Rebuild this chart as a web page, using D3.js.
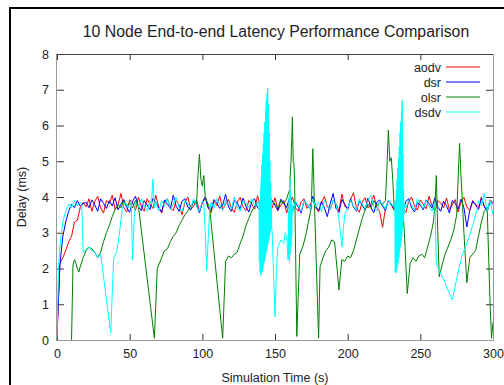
<!DOCTYPE html>
<html><head><meta charset="utf-8">
<script src="https://cdn.jsdelivr.net/npm/d3@7"></script>
<style>
html,body{margin:0;padding:0;background:#fff;}
svg{display:block;font-family:"Liberation Sans",Arial,sans-serif;}
</style></head>
<body><svg id="c" width="504" height="385"></svg>
<script>
// ---- data ----
const title = "10 Node End-to-end Latency Performance Comparison";
const xLabel = "Simulation Time (s)";
const yLabel = "Delay (ms)";
const xTicks = [0, 50, 100, 150, 200, 250, 300];
const yTicks = [0, 1, 2, 3, 4, 5, 6, 7, 8];
const seriesNames = ["aodv", "dsr", "olsr", "dsdv"];
const seriesColors = ["#ff0000", "#0000ff", "#008000", "#00ffff"];

// aodv / dsr: sampled every 2 s from t = 0
const aodvValues = [0.1, 2.15, 2.3, 2.5, 2.75, 2.9, 3.3, 3.35, 3.7, 3.85,
 3.72, 3.95, 3.6, 3.88, 4.02, 3.7, 3.55, 3.9, 3.82, 4.05,
 3.65, 3.78, 4.1, 3.7, 3.58, 3.92, 3.85, 3.62, 4.0, 3.75,
 3.6, 3.95, 3.8, 3.68, 4.05, 3.72, 3.55, 3.88, 3.95, 3.7,
 3.62, 3.9, 3.78, 3.5, 3.85, 4.0, 3.66, 3.74, 3.92, 3.6,
 3.82, 3.98, 3.7, 3.56, 3.88, 3.76, 4.03, 3.64, 3.8, 3.93,
 3.68, 3.57, 3.86, 3.99, 3.72, 3.62, 3.9, 3.8, 3.66, 4.04,
 3.74, 3.58, 3.92, 3.84, 3.7, 3.98, 3.63, 3.77, 3.9, 3.55,
 3.82, 4.0, 3.7, 3.6, 3.87, 3.95, 3.68, 3.78, 3.92, 3.7,
 3.58, 3.85, 4.02, 3.73, 3.64, 3.9, 3.81, 3.6, 4.08, 3.75,
 3.66, 3.93, 4.12, 3.7, 3.57, 3.86, 3.98, 3.69, 3.8, 4.05,
 3.72, 3.6, 3.15, 3.68, 3.9, 3.78, 3.62, 3.95, 3.84, 3.7,
 3.56, 3.88, 4.0, 3.74, 3.63, 3.92, 3.8, 3.67, 4.02, 3.76,
 3.6, 3.9, 3.83, 3.7, 3.97, 3.65, 3.78, 3.93, 3.58, 3.86,
 3.99, 3.72, 3.62, 3.9, 3.8, 3.68, 4.0, 3.75, 3.6, 3.92, 3.85];

const dsrValues = [0.1, 2.1, 2.9, 3.3, 3.6, 3.8, 3.7, 3.9, 3.75, 3.82,
 3.85, 3.7, 3.92, 3.78, 3.6, 3.95, 3.82, 3.68, 3.9, 3.75,
 3.98, 3.64, 3.8, 3.93, 3.7, 3.57, 3.88, 4.02, 3.73, 3.62,
 3.9, 3.78, 3.65, 3.96, 3.84, 3.7, 3.58, 3.92, 3.8, 3.67,
 4.05, 3.74, 3.6, 3.88, 3.95, 3.72, 3.63, 3.9, 3.79, 3.56,
 3.86, 4.0, 3.7, 3.62, 3.93, 3.82, 3.68, 3.77, 4.08, 3.72,
 3.6, 3.9, 3.84, 3.66, 3.97, 3.74, 3.58, 3.87, 3.95, 3.7,
 3.63, 3.92, 3.8, 3.68, 3.9, 3.76, 3.62, 3.94, 3.83, 3.7,
 3.98, 3.6, 3.85, 3.72, 3.55, 3.9, 3.8, 3.66, 4.02, 3.74,
 3.62, 3.88, 3.7, 3.45, 3.82, 4.1, 3.68, 3.57, 3.93, 3.8,
 3.66, 3.95, 3.72, 3.6, 3.88, 3.78, 3.64, 3.97, 3.7, 3.56,
 3.85, 3.92, 3.74, 3.62, 3.9, 3.8, 3.67, 4.0, 3.73, 3.6,
 3.88, 3.95, 3.7, 3.58, 3.84, 3.77, 3.64, 3.92, 3.82, 3.69,
 3.98, 3.72, 3.6, 3.88, 3.76, 3.55, 3.9, 3.82, 3.66, 3.94,
 3.7, 3.16, 3.62, 3.88, 3.78, 3.65, 3.95, 3.73, 3.6, 3.87, 3.8];

// olsr: [time, delay]
const olsrPoints = [[10,0],[11,2.1],[12,2.25],[13,2.15],[14,2.0],[15,1.9],[16,2.05],[18,2.3],[20,2.5],[22,2.6],
 [24,2.55],[26,2.45],[28,2.3],[30,2.45],[32,2.75],[34,3.0],[36,3.2],[38,3.45],[40,3.65],[42,3.8],
 [44,3.7],[46,3.9],[48,3.75],[50,3.85],[52,3.7],[54,3.9],[56,3.75],[67,0.05],[69,2.0],[70,2.1],
 [72,2.3],[74,2.5],[76,2.55],[78,2.75],[80,2.9],[82,3.0],[84,3.2],[86,3.35],[88,3.5],[90,3.6],
 [92,3.75],[94,3.85],[96,3.8],[97,4.6],[98,5.2],[99,4.5],[100,4.3],[101,4.6],[102,4.0],[104,3.8],
 [105,3.7],[114,0.05],[116,2.2],[118,2.35],[120,2.3],[122,2.4],[124,2.45],[126,2.7],[128,2.9],[130,3.2],
 [132,3.4],[134,3.6],[136,3.75],[138,3.85],[140,3.8],[141,4.5],[142,5.1],[143,4.3],[144,3.9],[146,3.75],
 [148,3.9],[150,3.8],[152,3.7],[154,3.9],[156,3.8],[158,3.95],[160,4.2],[161,5.0],[162,6.24],[162.5,5.0],
 [163,4.95],[163.5,4.4],[165,0.1],[167,2.4],[169,2.6],[171,2.9],[173,3.3],[175,3.7],[176,5.35],[177,4.0],
 [180,0.05],[181,2.05],[183,2.3],[185,2.5],[187,2.6],[189,2.8],[191,2.75],[194,1.4],[196,2.25],[198,2.2],
 [200,2.35],[202,2.3],[204,2.5],[206,2.8],[208,3.1],[210,3.4],[212,3.64],[214,3.8],[216,3.7],[218,3.9],
 [220,3.75],[222,3.85],[224,3.8],[226,3.9],[227,4.8],[228,5.87],[229,5.0],[230,5.1],[231,4.5],[232,3.7],
 [234,3.8],[236,3.75],[238,3.7],[239,3.0],[241,1.3],[243,2.15],[245,2.3],[247,2.2],[249,2.35],[251,2.4],
 [253,2.3],[255,2.6],[257,2.9],[259,3.3],[260,3.73],[261,4.6],[262,3.0],[263,1.77],[265,2.1],[267,2.4],
 [269,2.6],[271,2.8],[273,3.07],[275,3.5],[276,4.5],[277,5.5],[278,4.6],[280,3.0],[282,1.6],[284,2.3],
 [286,2.4],[288,2.5],[290,2.9],[292,3.3],[294,3.6],[296,3.7],[298,1.0],[299,0.05],[300,0.5]];

// dsdv: [time, delay]
const dsdvPoints = [[0,0.05],[1,2.0],[2,2.6],[3,3.0],[4,3.3],[6,3.6],[8,3.8],[10,3.7],[12,3.9],[14,3.75],
 [16,3.85],[17,3.8],[18,2.45],[20,2.55],[22,2.6],[24,2.5],[26,2.45],[28,2.3],[30,2.4],[37,0.2],
 [38,1.3],[39,2.3],[41,2.45],[43,3.0],[45,3.7],[47,3.85],[49,3.7],[51,3.9],[52,2.25],[53,3.3],
 [54,3.85],[56,3.7],[58,3.95],[60,3.75],[62,3.6],[64,3.9],[65,3.8],[66,4.5],[67,3.7],[68,3.85],
 [70,3.6],[72,3.9],[74,3.75],[76,3.95],[78,3.65],[80,3.8],[82,4.0],[84,3.7],[86,3.58],[88,3.9],
 [90,3.82],[92,3.68],[94,3.95],[96,3.74],[98,3.6],[100,3.88],[101,3.8],[102,3.0],[103,1.96],[104,2.8],
 [105,3.6],[106,3.85],[108,3.7],[110,3.95],[112,3.78],[114,3.62],[116,3.9],[118,3.8],[120,3.66],[122,4.0],
 [124,3.72],[126,3.6],[128,3.9],[130,3.82],[132,3.7],[134,3.95],[136,3.75],[138,3.85],
 [139,3.8],[139.25,2.2],[139.5,3.9],[139.75,1.9],[140,4.2],[140.25,1.8],[140.5,4.5],[140.75,1.85],
 [141,4.9],[141.25,1.9],[141.5,5.2],[141.75,2.0],[142,5.5],[142.25,2.1],[142.5,5.8],[142.75,2.2],
 [143,6.1],[143.25,2.3],[143.5,6.4],[143.75,2.4],[144,6.7],[144.25,2.5],[144.5,6.9],[144.75,2.6],
 [145,7.05],[145.25,2.7],[145.5,6.6],[145.75,2.8],[146,5.8],[146.25,2.9],[146.5,5.0],[146.75,3.0],
 [147,4.4],[147.25,3.1],[147.5,4.0],[147.75,3.1],[148,3.07],
 [150,0.65],[151,2.0],[152,2.6],[154,2.8],[156,2.7],[157,3.0],[158,2.9],
 [159,2.24],[159.25,3.6],[159.5,2.3],[159.75,4.0],[160,2.2],[160.25,4.5],[160.5,2.4],[160.75,4.2],
 [161,2.6],[161.25,3.9],[161.5,2.9],[161.75,3.8],[162,3.5],[163,3.7],[164,3.9],[166,3.75],[168,3.6],
 [170,3.9],[172,3.8],[174,3.66],[176,3.95],[178,3.72],[180,3.85],[182,3.6],[184,3.9],[186,3.78],[188,3.65],
 [190,3.92],[192,3.8],[194,3.4],[196,2.6],[197,3.1],[198,3.5],[200,3.7],[202,3.9],[204,3.75],[206,3.62],
 [208,3.95],[210,3.8],[212,3.68],[214,3.9],[216,4.05],[218,3.74],[220,3.6],[222,3.88],[224,3.8],[226,3.66],
 [228,3.92],[230,3.75],[232,3.8],
 [232.5,3.6],[232.75,1.9],[233,3.9],[233.25,1.87],[233.5,4.2],[233.75,1.95],[234,4.5],[234.25,2.05],
 [234.5,4.8],[234.75,2.15],[235,5.1],[235.25,2.3],[235.5,5.4],[235.75,2.45],[236,5.8],[236.25,2.6],
 [236.5,6.1],[236.75,2.75],[237,6.4],[237.25,2.9],[237.5,6.7],[237.75,3.1],[238,5.2],[238.25,3.3],
 [238.5,4.2],[238.75,3.5],[239,3.8],
 [240,3.7],[242,3.9],[244,3.78],[246,3.62],[248,3.95],[250,3.8],[252,3.68],[254,3.9],[256,3.75],[258,3.6],
 [260,3.85],[261,2.15],[263,1.95],[266,1.7],[269,1.4],[272,1.12],[276,1.9],[279,2.4],[282,2.7],[286,3.2],
 [289,3.64],[290,3.9],[292,3.75],[294,4.1],[296,3.6],[298,3.9],[300,3.5]];

// ---- drawing ----
const svg = d3.select("#c");
const W = 504, H = 385;
const plot = {left: 57, top: 54, right: 493, bottom: 340};
const x = d3.scaleLinear().domain([0, 300]).range([plot.left, plot.right]);
const y = d3.scaleLinear().domain([0, 8]).range([plot.bottom, plot.top]);

svg.append("rect").attr("width", W).attr("height", H).attr("fill", "#fff");
// outer black frame (extends beyond the window on right/bottom)
svg.append("path").attr("d", `M10,${H}V8H${W}`).attr("fill", "none")
  .attr("stroke", "#000").attr("stroke-width", 2);

svg.append("defs").append("clipPath").attr("id", "clip").append("rect")
  .attr("x", plot.left).attr("y", plot.top)
  .attr("width", plot.right - plot.left).attr("height", plot.bottom - plot.top);

const textColor = "#222";
const fontSize = 12.5;

// axes with ticks (inward)
const axB = svg.append("g").attr("transform", `translate(0,${plot.bottom})`)
  .call(d3.axisBottom(x).tickValues(xTicks).tickSize(-6).tickPadding(9).tickFormat(d3.format("d")));
const axT = svg.append("g").attr("transform", `translate(0,${plot.top})`)
  .call(d3.axisTop(x).tickValues(xTicks).tickSize(-6).tickFormat(""));
const axL = svg.append("g").attr("transform", `translate(${plot.left},0)`)
  .call(d3.axisLeft(y).tickValues(yTicks).tickSize(-7).tickPadding(8).tickFormat(d3.format("d")));
const axR = svg.append("g").attr("transform", `translate(${plot.right},0)`)
  .call(d3.axisRight(y).tickValues(yTicks).tickSize(-7).tickFormat(""));
[axB, axT, axL, axR].forEach(a => {
  a.select(".domain").remove();
  a.selectAll(".tick line").attr("stroke", "#333").attr("stroke-width", 1);
  a.selectAll("text").attr("fill", textColor).attr("font-size", fontSize)
    .attr("font-family", '"Liberation Sans",Arial,sans-serif');
});

// plot border
svg.append("line").attr("x1", plot.left).attr("x2", plot.right).attr("y1", plot.top + 0.5).attr("y2", plot.top + 0.5).attr("stroke", "#444");
svg.append("line").attr("x1", plot.left - 0.5).attr("x2", plot.left - 0.5).attr("y1", plot.top).attr("y2", plot.bottom).attr("stroke", "#999");
svg.append("line").attr("x1", plot.right + 0.5).attr("x2", plot.right + 0.5).attr("y1", plot.top).attr("y2", plot.bottom).attr("stroke", "#999");
svg.append("line").attr("x1", plot.left - 1).attr("x2", plot.right + 1).attr("y1", plot.bottom + 0.5).attr("y2", plot.bottom + 0.5).attr("stroke", "#999");

// series
const line = d3.line().x(d => x(d[0])).y(d => y(d[1]));
const aodvPts = aodvValues.map((v, i) => [i * 2, v]);
const dsrPts = dsrValues.map((v, i) => [i * 2, v]);
const allSeries = [aodvPts, dsrPts, olsrPoints, dsdvPoints];
const gLines = svg.append("g").attr("clip-path", "url(#clip)");
allSeries.forEach((pts, i) => {
  gLines.append("path").datum(pts).attr("d", line).attr("fill", "none")
    .attr("stroke", seriesColors[i]).attr("stroke-width", 1).attr("stroke-linejoin", "round");
});

// legend
const lg = svg.append("g");
seriesNames.forEach((n, i) => {
  const yy = 67 + i * 15;
  lg.append("text").attr("x", 441).attr("y", yy + 4.5).attr("text-anchor", "end")
    .attr("fill", textColor).attr("font-size", fontSize).text(n);
  lg.append("line").attr("x1", 446).attr("x2", 480).attr("y1", yy).attr("y2", yy)
    .attr("stroke", seriesColors[i]).attr("stroke-width", 1);
});

// title & labels
svg.append("text").attr("x", 276).attr("y", 37).attr("text-anchor", "middle")
  .attr("fill", textColor).attr("font-size", 15.8).text(title);
svg.append("text").attr("x", 275).attr("y", 382).attr("text-anchor", "middle")
  .attr("fill", textColor).attr("font-size", fontSize).text(xLabel);
svg.append("text").attr("transform", `translate(26,197) rotate(-90)`).attr("text-anchor", "middle")
  .attr("fill", textColor).attr("font-size", fontSize).text(yLabel);
</script></body></html>
